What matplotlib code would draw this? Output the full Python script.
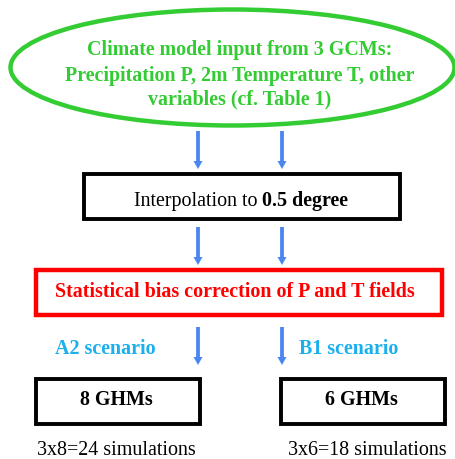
import matplotlib
matplotlib.use("Agg")
import matplotlib.pyplot as plt
from matplotlib.patches import Ellipse, Rectangle, FancyArrow

# Content
input_lines = ["Climate model input from 3 GCMs:",
               "Precipitation P, 2m Temperature T, other",
               "variables (cf. Table 1)"]
interp_normal = "Interpolation to "
interp_bold = "0.5 degree"
bias_text = "Statistical bias correction of P and T fields"
scenarios = ["A2 scenario", "B1 scenario"]
ghm_labels = ["8 GHMs", "6 GHMs"]
sim_labels = ["3x8=24 simulations", "3x6=18 simulations"]

GREEN = "#33cc33"
BLUE = "#4a86f0"
CYAN = "#1ab0ee"
RED = "#ff0000"

fig = plt.figure(figsize=(4.56, 4.60), dpi=100)
ax = fig.add_axes([0, 0, 1, 1])
ax.set_xlim(0, 456)
ax.set_ylim(460, 0)
ax.axis("off")

serif = "Liberation Serif"
FS = 14.4

# Ellipse
ax.add_patch(Ellipse((232.5, 68.5), 444, 116, fill=False, ec=GREEN, lw=3.2))
for y, t in zip([48, 73, 97], input_lines):
    ax.text(240, y, t, ha="center", va="center_baseline", color=GREEN,
            fontsize=FS, fontweight="bold", family=serif)

def arrow(x, y0, y1):
    ax.add_patch(FancyArrow(x, y0, 0, y1 - y0, width=3.8, head_width=9,
                            head_length=8, length_includes_head=True,
                            color=BLUE, lw=0))

for x in (198, 282):
    arrow(x, 132, 170)
    arrow(x, 228, 266)
    arrow(x, 328, 366)

# Interpolation box
ax.add_patch(Rectangle((84, 175), 316, 45, fill=False, ec="black", lw=2.8))
t1 = ax.text(0, 199, interp_normal, ha="left", va="center_baseline", color="black",
             fontsize=FS, family=serif)
t2 = ax.text(0, 199, interp_bold, ha="left", va="center_baseline", color="black",
             fontsize=FS, fontweight="bold", family=serif)
fig.canvas.draw()
r = fig.canvas.get_renderer()
w1 = t1.get_window_extent(r).width
w2 = t2.get_window_extent(r).width
start = 241 - (w1 + w2) / 2
t1.set_x(start)
t2.set_x(start + w1)

# Bias box
ax.add_patch(Rectangle((36, 271), 406, 45, fill=False, ec=RED, lw=3.2))
ax.text(235, 290, bias_text, ha="center", va="center_baseline", color=RED,
        fontsize=FS, fontweight="bold", family=serif)

# Scenarios
for x, t in zip([105, 349], scenarios):
    ax.text(x, 347, t, ha="center", va="center_baseline", color=CYAN,
            fontsize=FS, fontweight="bold", family=serif)

# GHM boxes
for x0, t in zip([36, 281], ghm_labels):
    ax.add_patch(Rectangle((x0, 380), 164, 45, fill=False, ec="black", lw=2.8))
    ax.text(x0 + 80, 398, t, ha="center", va="center_baseline", color="black",
            fontsize=FS, fontweight="bold", family=serif)

for x, t in zip([116, 367], sim_labels):
    ax.text(x, 448, t, ha="center", va="center_baseline", color="black",
            fontsize=FS, family=serif)

fig.savefig("out.png", dpi=100)
